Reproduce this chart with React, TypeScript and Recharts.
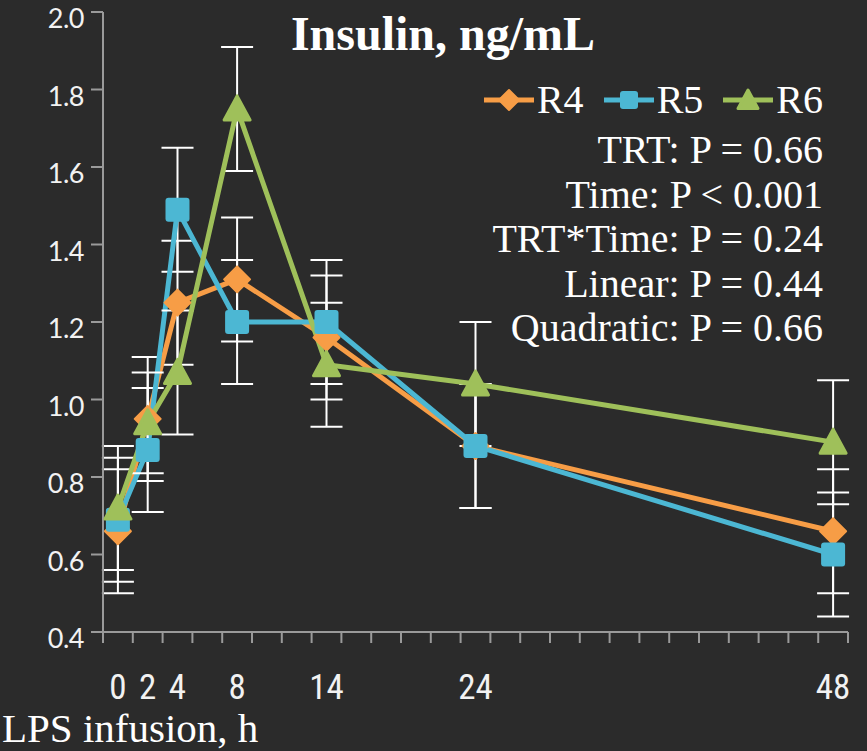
import { LineChart, Line, XAxis, YAxis, ErrorBar } from "recharts";

const hours = [0, 2, 4, 8, 14, 24, 48];
const r4 = [0.66, 0.95, 1.25, 1.31, 1.16, 0.88, 0.66];
const r5 = [0.69, 0.87, 1.49, 1.2, 1.2, 0.88, 0.6];
const r6 = [0.72, 0.94, 1.07, 1.75, 1.09, 1.04, 0.89];
const r4Se = [0.16, 0.16, 0.16, 0.16, 0.16, 0.16, 0.16];
const r5Se = [0.16, 0.16, 0.16, 0.16, 0.16, 0.16, 0.16];
const r6Se = [0.16, 0.13, 0.16, 0.16, 0.16, 0.16, 0.16];

const labelTicks = [0, 2, 4, 8, 14, 24, 48];
const minorTicks = [-1, 1, 3, 5, 7, 9, 11, 13, 15, 17, 19, 21, 23, 25, 27, 29, 31, 33, 35, 37, 39, 41, 43, 45, 47, 49];
const yTicks = [0.4, 0.6, 0.8, 1.0, 1.2, 1.4, 1.6, 1.8, 2.0];

const title = "Insulin, ng/mL";
const xTitle = "LPS infusion, h";
const stats = [
  "TRT: P = 0.66",
  "Time: P < 0.001",
  "TRT*Time: P = 0.24",
  "Linear: P = 0.44",
  "Quadratic: P = 0.66",
];

const ORANGE = "#f79d46";
const BLUE = "#4cb7d3";
const GREEN = "#9fc05a";
const BG = "#2b2b2b";
const AXIS = "#9a9a9a";
const SERIF = "'Liberation Serif', 'DejaVu Serif', serif";

const series = [
  { key: "r4", name: "R4", color: ORANGE, shape: "diamond" },
  { key: "r5", name: "R5", color: BLUE, shape: "square" },
  { key: "r6", name: "R6", color: GREEN, shape: "triangle" },
];

const data = hours.map((h, i) => ({
  h,
  r4: r4[i],
  r4Err: r4Se[i],
  r5: r5[i],
  r5Err: r5Se[i],
  r6: r6[i],
  r6Err: r6Se[i],
}));

function Marker({ cx, cy, shape, color, size = 12 }: any) {
  if (cx == null || cy == null) return null;
  if (shape === "diamond") {
    const s = size + 1;
    return (
      <polygon
        points={`${cx},${cy - s} ${cx + s},${cy} ${cx},${cy + s} ${cx - s},${cy}`}
        fill={color}
        stroke={color}
        strokeWidth={2}
        strokeLinejoin="round"
      />
    );
  }
  if (shape === "square") {
    return (
      <rect
        x={cx - size}
        y={cy - size}
        width={size * 2}
        height={size * 2}
        rx={3}
        fill={color}
      />
    );
  }
  const s = size + 1;
  return (
    <polygon
      points={`${cx},${cy - s} ${cx + s},${cy + s * 0.85} ${cx - s},${cy + s * 0.85}`}
      fill={color}
      stroke={color}
      strokeWidth={3}
      strokeLinejoin="round"
    />
  );
}

function XTick({ x, y, payload }: any) {
  const v = payload.value;
  if (minorTicks.includes(v)) {
    return <line x1={x} y1={y} x2={x} y2={y + 11} stroke={AXIS} strokeWidth={2} />;
  }
  return (
    <text
      x={x}
      y={y + 67}
      textAnchor="middle"
      fill="#f2f2f2"
      fontSize={35}
      fontFamily="'Liberation Sans Narrow', 'Roboto Condensed', Roboto, sans-serif"
    >
      {v}
    </text>
  );
}

function YTick({ x, y, payload }: any) {
  return (
    <text
      x={x}
      y={y + 16}
      textAnchor="end"
      fill="#f2f2f2"
      fontSize={27}
      letterSpacing={-0.5}
      fontFamily="Lato, 'Noto Sans', sans-serif"
    >
      {Number(payload.value).toFixed(1)}
    </text>
  );
}

export default function App() {
  return (
    <div
      style={{
        position: "absolute",
        left: 0,
        top: 0,
        width: 867,
        height: 751,
        background: BG,
        overflow: "hidden",
      }}
    >
      <LineChart
        width={867}
        height={751}
        data={data}
        margin={{ top: 12, right: 19, left: 0, bottom: 59 }}
      >
        <XAxis
          dataKey="h"
          type="number"
          domain={[-1, 49]}
          ticks={[...minorTicks, ...labelTicks].sort((a, b) => a - b)}
          interval={0}
          tick={<XTick />}
          tickLine={false}
          tickSize={0}
          tickMargin={0}
          height={60}
          axisLine={{ stroke: AXIS, strokeWidth: 2 }}
        />
        <YAxis
          type="number"
          domain={[0.4, 2.0]}
          ticks={yTicks}
          interval={0}
          width={103}
          tick={<YTick />}
          tickSize={12}
          tickMargin={7}
          tickLine={{ stroke: AXIS, strokeWidth: 2 }}
          axisLine={{ stroke: AXIS, strokeWidth: 2 }}
        />
        {series.map((s) => (
          <Line
            key={s.key}
            dataKey={s.key}
            name={s.name}
            stroke={s.color}
            strokeWidth={5}
            isAnimationActive={false}
            activeDot={false}
            dot={(p: any) => (
              <Marker key={`${s.key}-${p.index}`} cx={p.cx} cy={p.cy} shape={s.shape} color={s.color} />
            )}
          >
            <ErrorBar
              dataKey={`${s.key}Err`}
              direction="y"
              width={16}
              stroke="#ffffff"
              strokeWidth={2}
              isAnimationActive={false}
            />
          </Line>
        ))}
      </LineChart>

      <div
        style={{
          position: "absolute",
          left: 443,
          top: 6,
          transform: "translateX(-50%)",
          color: "#ffffff",
          fontFamily: SERIF,
          fontWeight: "bold",
          fontSize: 48,
          lineHeight: "56px",
          whiteSpace: "nowrap",
        }}
      >
        {title}
      </div>

      <div
        style={{
          position: "absolute",
          right: 44,
          top: 76,
          display: "flex",
          alignItems: "center",
          gap: 20,
          color: "#ffffff",
          fontFamily: SERIF,
          fontSize: 40,
          lineHeight: "48px",
        }}
      >
        {series.map((s) => (
          <div key={s.key} style={{ display: "flex", alignItems: "center", gap: 3 }}>
            <svg width={50} height={30}>
              <line x1={0} y1={15} x2={50} y2={15} stroke={s.color} strokeWidth={5} />
              <Marker cx={25} cy={15} shape={s.shape} color={s.color} size={9} />
            </svg>
            <span>{s.name}</span>
          </div>
        ))}
      </div>

      <div
        style={{
          position: "absolute",
          right: 44,
          top: 128,
          textAlign: "right",
          color: "#ffffff",
          fontFamily: SERIF,
          fontSize: 40,
          lineHeight: "44.5px",
          whiteSpace: "nowrap",
        }}
      >
        {stats.map((t) => (
          <div key={t}>{t}</div>
        ))}
      </div>

      <div
        style={{
          position: "absolute",
          left: 2,
          top: 704,
          color: "#ffffff",
          fontFamily: SERIF,
          fontSize: 41,
          lineHeight: "48px",
          whiteSpace: "nowrap",
        }}
      >
        {xTitle}
      </div>
    </div>
  );
}
